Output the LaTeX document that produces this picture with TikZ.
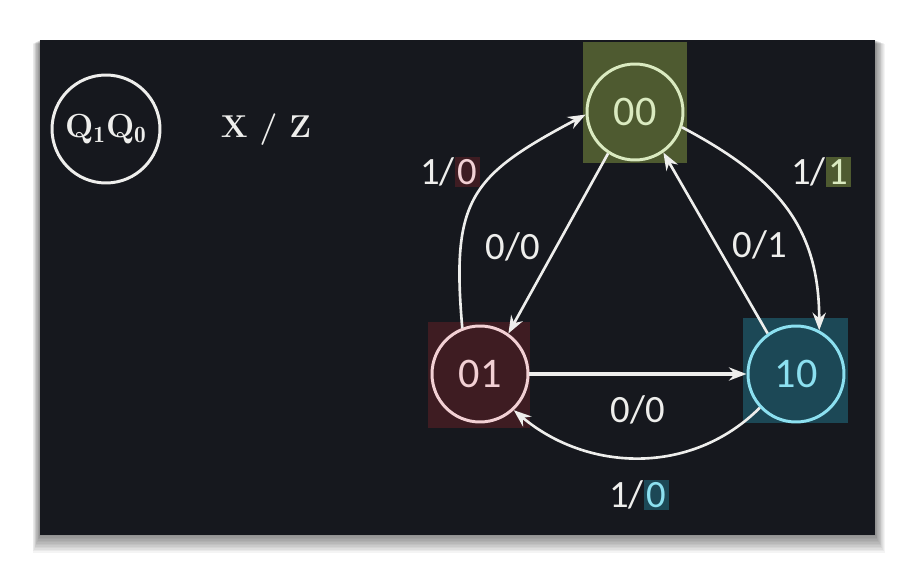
\documentclass[tikz,border=0pt]{standalone}
\usepackage{fontspec}
\setsansfont{Carlito}
\usetikzlibrary{arrows.meta}

\definecolor{board}{RGB}{22,24,30}
\definecolor{chalk}{RGB}{238,238,236}
\definecolor{olivebox}{RGB}{78,90,48}
\definecolor{maroonbox}{RGB}{62,28,34}
\definecolor{tealbox}{RGB}{28,72,86}
\definecolor{greenline}{RGB}{218,234,192}
\definecolor{pinkline}{RGB}{242,208,212}
\definecolor{cyanline}{RGB}{140,224,240}

\newcommand{\hlbox}[3]{{\setlength{\fboxsep}{1.5pt}\colorbox{#1}{\textcolor{#2}{#3}}}}

\begin{document}
\begin{tikzpicture}[x=0.02cm, y=-0.02cm,
    state/.style={circle, draw, line width=1.7pt, minimum size=1.92cm, inner sep=0pt,
        font=\sffamily\fontsize{24}{24}\selectfont},
    edge/.style={line width=1.5pt, draw=chalk, -{Stealth[length=10pt,width=7.5pt]}},
    lbl/.style={font=\sffamily\fontsize{22}{22}\selectfont, text=chalk, inner sep=0pt}]

    % page and board
    \fill[white] (0,0) rectangle (914,574);
    \foreach \i in {1,...,12}
        \fill[black, opacity=0.045] (40-\i*0.6, 40+\i*0.3) rectangle (875+\i*0.8, 535+\i*1.5);
    \fill[board] (40,40) rectangle (875,535);

    % colour patches behind the states
    \fill[olivebox] (583,42) rectangle (687,163);
    \fill[maroonbox] (428,322) rectangle (530,428);
    \fill[tealbox] (743,318) rectangle (848,423);

    % legend
    \node[circle, draw=chalk, line width=1.7pt, minimum size=2.16cm, inner sep=0pt,
        text=chalk, font=\bfseries\fontsize{19}{19}\selectfont] (key) at (106,129)
        {Q$_{\mathbf{1}}$Q$_{\mathbf{0}}$};
    \node[text=chalk, font=\bfseries\fontsize{18}{18}\selectfont] (io) at (266,130) {X / Z};

    % states
    \node[state, draw=greenline, text=greenline] (s00) at (635,112) {00};
    \node[state, draw=pinkline, text=pinkline] (s01) at (480,374) {01};
    \node[state, draw=cyanline, text=cyanline] (s10) at (796,374) {10};

    % transitions
    \draw[edge] (s01.111) to[out=95, in=208, looseness=1.35] (s00.183);
    \draw[edge] (s00.-18) to[out=-28, in=90, looseness=1.1] (s10.62);
    \draw[edge] (s00.-123) -- (s01.55);
    \draw[edge] (s10.125) -- (s00.-55);
    \draw[edge, line width=2.4pt] (s01) -- (s10);
    \draw[edge] (s10.-137) to[out=-135, in=-40] (s01.-47);

    % labels
    \node[lbl] (l1) at (450,172) {1/\hlbox{maroonbox}{pinkline}{0}};
    \node[lbl] (l2) at (821,172) {1/\hlbox{olivebox}{greenline}{1}};
    \node[lbl] (l3) at (513,247) {0/0};
    \node[lbl] (l4) at (760,245) {0/1};
    \node[lbl] (l5) at (638,410) {0/0};
    \node[lbl] (l6) at (639,495) {1/\hlbox{tealbox}{cyanline}{0}};
\end{tikzpicture}
\end{document}
